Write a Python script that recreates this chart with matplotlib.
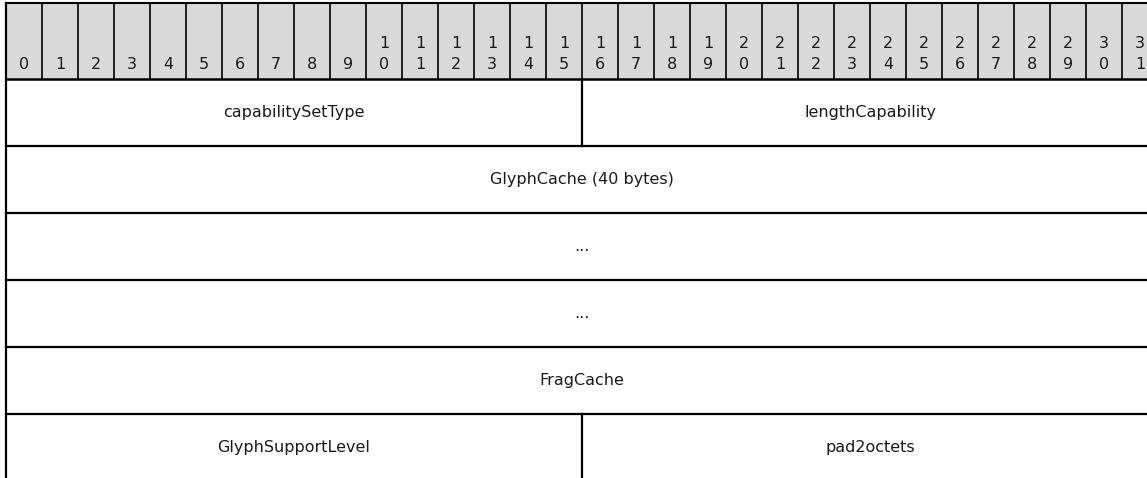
import matplotlib
matplotlib.use("Agg")
import matplotlib.pyplot as plt
from matplotlib.patches import Rectangle

# bit-field layout: one list per row, (label, number of bits)
ROWS = [
    [("capabilitySetType", 16), ("lengthCapability", 16)],
    [("GlyphCache (40 bytes)", 32)],
    [("...", 32)],
    [("...", 32)],
    [("FragCache", 32)],
    [("GlyphSupportLevel", 16), ("pad2octets", 16)],
]
N_BITS = 32

W, H = 1147, 478
BIT_PX = 36.0
X0 = 6.0
HEAD_TOP, HEAD_BOT = 3.0, 79.0
ROW_H = 67.0
HEAD_FILL = "#d9d9d9"
FONT = "DejaVu Sans"
FS = 11.5

fig = plt.figure(figsize=(W / 100, H / 100), dpi=100)
ax = fig.add_axes([0, 0, 1, 1])
ax.set_xlim(0, W)
ax.set_ylim(H, 0)
ax.axis("off")


def bx(bit):
    return X0 + bit * BIT_PX


# header
ax.add_patch(Rectangle((bx(0), HEAD_TOP), N_BITS * BIT_PX, HEAD_BOT - HEAD_TOP,
                       facecolor=HEAD_FILL, edgecolor="none", zorder=1))
for b in range(N_BITS):
    cx = bx(b) + BIT_PX / 2
    s = str(b)
    if len(s) == 1:
        ax.text(cx, 69, s, ha="center", va="baseline", fontsize=FS, family=FONT,
                color="#1a1a1a", zorder=3)
    else:
        ax.text(cx, 48, s[0], ha="center", va="baseline", fontsize=FS, family=FONT,
                color="#1a1a1a", zorder=3)
        ax.text(cx, 69, s[1], ha="center", va="baseline", fontsize=FS, family=FONT,
                color="#1a1a1a", zorder=3)
    if b > 0:
        ax.plot([bx(b), bx(b)], [HEAD_TOP, HEAD_BOT], color="black", lw=1.2, zorder=2)

ax.plot([bx(0), bx(N_BITS)], [HEAD_TOP, HEAD_TOP], color="black", lw=1.5, zorder=2)
ax.plot([bx(0), bx(N_BITS)], [HEAD_BOT, HEAD_BOT], color="black", lw=1.8, zorder=2)

# body rows
y = HEAD_BOT
for row in ROWS:
    y1 = y + ROW_H
    bit = 0
    for label, n in row:
        ax.text(bx(bit + n / 2), (y + y1) / 2, label, ha="center", va="center",
                fontsize=FS, family=FONT, color="#1a1a1a", zorder=3)
        bit += n
        if bit < N_BITS:
            ax.plot([bx(bit), bx(bit)], [y, y1], color="black", lw=1.6, zorder=2)
    ax.plot([bx(0), bx(N_BITS)], [y1, y1], color="black", lw=1.6, zorder=2)
    y = y1

ax.plot([bx(0), bx(0)], [HEAD_TOP, y], color="black", lw=1.6, zorder=2)
ax.plot([bx(N_BITS), bx(N_BITS)], [HEAD_TOP, y], color="black", lw=1.6, zorder=2)

fig.savefig("out.png", dpi=100, facecolor="white")
